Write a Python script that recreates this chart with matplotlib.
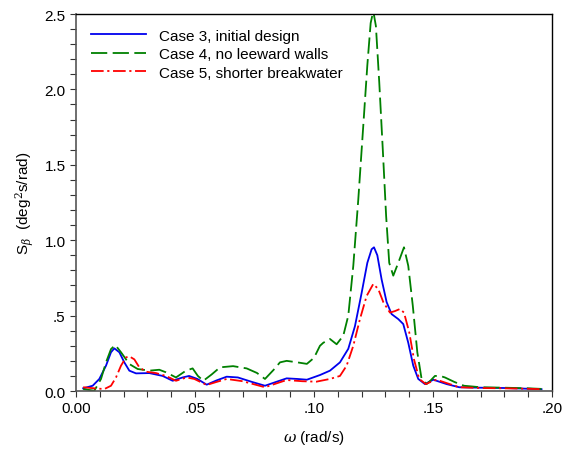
import matplotlib
matplotlib.use("Agg")
import matplotlib.pyplot as plt
from matplotlib.ticker import MultipleLocator, FuncFormatter

# Roll spectra for the three harbour layouts
omega_c3 = [0.003, 0.007, 0.0098, 0.0126, 0.0147, 0.0161, 0.0182, 0.0203, 0.0224, 0.0252,
            0.0308, 0.0364, 0.0406, 0.0448, 0.0475, 0.051, 0.0549, 0.059, 0.0633, 0.068,
            0.074, 0.0794, 0.084, 0.0885, 0.093, 0.097, 0.1025, 0.1067, 0.1109, 0.1144,
            0.1172, 0.12, 0.1224, 0.1242, 0.1252, 0.1266, 0.1284, 0.1305, 0.1326, 0.1354,
            0.1375, 0.1396, 0.1417, 0.1438, 0.1466, 0.1501, 0.1557, 0.161, 0.17, 0.18,
            0.19, 0.1956]
s_c3 = [0.018, 0.035, 0.08, 0.168, 0.257, 0.283, 0.257, 0.19, 0.135, 0.117,
        0.119, 0.10, 0.068, 0.09, 0.10, 0.08, 0.042, 0.07, 0.095, 0.09,
        0.06, 0.035, 0.06, 0.084, 0.08, 0.075, 0.106, 0.135, 0.19, 0.28,
        0.43, 0.65, 0.85, 0.94, 0.953, 0.90, 0.74, 0.59, 0.51, 0.477,
        0.444, 0.32, 0.168, 0.08, 0.046, 0.075, 0.046, 0.025, 0.022, 0.02,
        0.015, 0.012]

omega_c4 = [0.003, 0.0077, 0.0105, 0.0126, 0.0147, 0.0165, 0.0189, 0.0224, 0.0259, 0.0308,
            0.035, 0.0378, 0.042, 0.0462, 0.049, 0.0512, 0.0535, 0.057, 0.0605, 0.066,
            0.0717, 0.076, 0.0794, 0.083, 0.0857, 0.0885, 0.093, 0.097, 0.1, 0.1025,
            0.1039, 0.1067, 0.1095, 0.1123, 0.1144, 0.1165, 0.1186, 0.1207, 0.1224, 0.1238,
            0.1249, 0.126, 0.1274, 0.1289, 0.1303, 0.1316, 0.1333, 0.1354, 0.1378, 0.1396,
            0.1415, 0.1434, 0.1452, 0.1473, 0.149, 0.1508, 0.153, 0.155, 0.159, 0.163,
            0.17, 0.18, 0.19, 0.1956]
s_c4 = [0.013, 0.002, 0.08, 0.19, 0.278, 0.305, 0.257, 0.179, 0.146, 0.135,
        0.141, 0.124, 0.09, 0.135, 0.15, 0.10, 0.068, 0.11, 0.157, 0.165,
        0.15, 0.12, 0.08, 0.14, 0.19, 0.20, 0.19, 0.18, 0.22, 0.30,
        0.32, 0.345, 0.31, 0.367, 0.50, 0.83, 1.27, 1.76, 2.16, 2.44,
        2.52, 2.42, 2.05, 1.60, 1.16, 0.85, 0.765, 0.85, 0.953, 0.83,
        0.566, 0.257, 0.08, 0.046, 0.07, 0.10, 0.10, 0.09, 0.06, 0.035,
        0.025, 0.022, 0.018, 0.014]

omega_c5 = [0.003, 0.0077, 0.0119, 0.0147, 0.0168, 0.0189, 0.021, 0.0224, 0.0245, 0.0266,
            0.0294, 0.0336, 0.0378, 0.042, 0.0465, 0.0497, 0.0549, 0.059, 0.0633, 0.07,
            0.0794, 0.0885, 0.095, 0.101, 0.1067, 0.1109, 0.1137, 0.1165, 0.1193, 0.1221,
            0.1249, 0.127, 0.1291, 0.1319, 0.134, 0.1361, 0.1378, 0.14, 0.142, 0.1442,
            0.147, 0.1501, 0.1515, 0.157, 0.161, 0.17, 0.18, 0.19, 0.1956]
s_c5 = [0.025, 0.018, 0.013, 0.035, 0.09, 0.168, 0.223, 0.23, 0.21, 0.157,
        0.128, 0.119, 0.10, 0.068, 0.09, 0.08, 0.04, 0.06, 0.08, 0.065,
        0.025, 0.073, 0.065, 0.062, 0.08, 0.10, 0.168, 0.30, 0.477, 0.63,
        0.71, 0.676, 0.59, 0.52, 0.53, 0.544, 0.52, 0.39, 0.21, 0.08,
        0.046, 0.068, 0.075, 0.046, 0.025, 0.02, 0.018, 0.015, 0.012]

labels = ["Case 3, initial design", "Case 4, no leeward walls", "Case 5, shorter breakwater"]

plt.rcParams["font.family"] = ["Liberation Sans", "DejaVu Sans"]
plt.rcParams["mathtext.fontset"] = "dejavuserif"

fig = plt.figure(figsize=(5.66, 4.52), dpi=100)
ax = fig.add_axes([0.1343, 0.1327, 0.8410, 0.8341])

line_kw = dict(lw=1.3, solid_joinstyle="round", dash_joinstyle="round")
ax.plot(omega_c3, s_c3, color="#0000ee", label=labels[0], **line_kw)
ax.plot(omega_c4, s_c4, color="#008000", dashes=(9, 3), label=labels[1], **line_kw)
ax.plot(omega_c5, s_c5, color="#ff0000", dashes=(7, 2, 1.2, 2), label=labels[2], **line_kw)

ax.set_xlim(0, 0.2)
ax.set_ylim(0, 2.5)
ax.xaxis.set_major_locator(MultipleLocator(0.05))
ax.xaxis.set_minor_locator(MultipleLocator(0.01))
ax.yaxis.set_major_locator(MultipleLocator(0.5))
ax.yaxis.set_minor_locator(MultipleLocator(0.1))


def strip_zero(fmt):
    def f(v, pos):
        if abs(v) < 1e-9:
            return fmt % 0
        s = fmt % v
        return s[1:] if s.startswith("0.") else s
    return FuncFormatter(f)


ax.xaxis.set_major_formatter(strip_zero("%.2f"))
ax.yaxis.set_major_formatter(strip_zero("%.1f"))
ax.tick_params(which="both", direction="out", length=4, width=0.8, colors="#333333",
               labelsize=11, labelcolor="black", top=False, right=False)

for side in ["left", "bottom"]:
    ax.spines[side].set_color("#555555")
    ax.spines[side].set_linewidth(1.2)
for side in ["top", "right"]:
    ax.spines[side].set_color("black")
    ax.spines[side].set_linewidth(1.0)

ax.set_xlabel(r"$\omega$ (rad/s)", fontsize=11, labelpad=9)
ax.set_ylabel(r"S$_\beta$  (deg$^2$s/rad)", fontsize=11, labelpad=6)

ax.legend(loc="upper left", bbox_to_anchor=(0.0, 1.0), frameon=False, fontsize=11,
          handlelength=3.6, handletextpad=0.9, labelspacing=0.3, borderaxespad=0.55)

fig.savefig("out.png", dpi=100)
